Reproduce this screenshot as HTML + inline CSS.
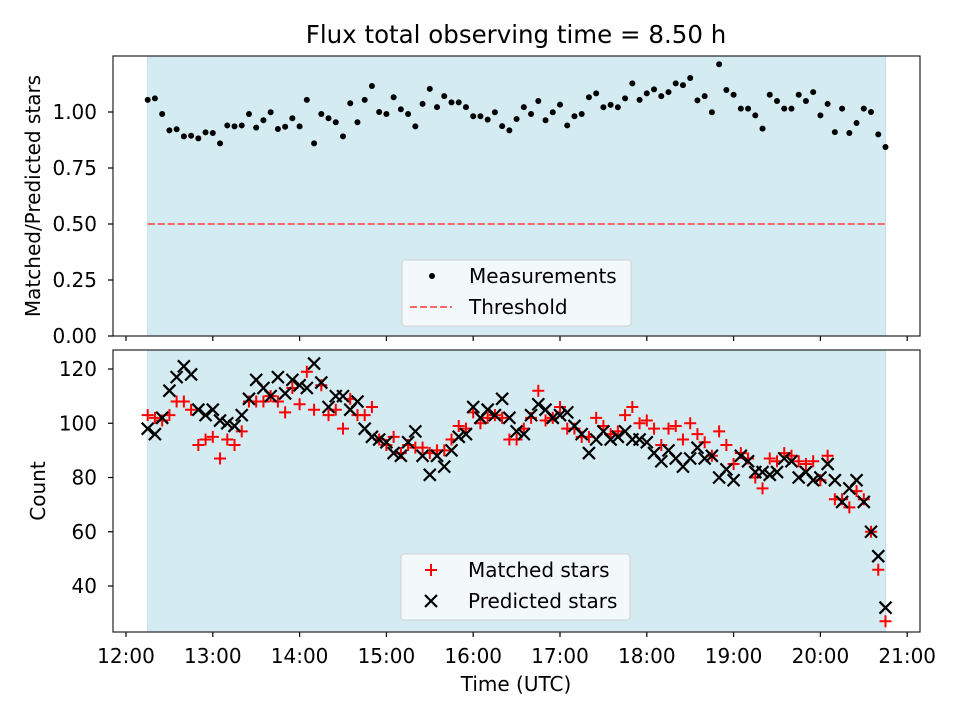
<!DOCTYPE html>
<html><head><meta charset="utf-8"><style>
body{margin:0;background:#fff;}
svg{display:block;font-family:"DejaVu Sans","Liberation Sans",sans-serif;}
</style></head><body>
<svg id="chart" width="960" height="720" viewBox="0 0 960 720" xmlns="http://www.w3.org/2000/svg">
<text x="516" y="43" font-size="24.5" text-anchor="middle">Flux total observing time = 8.50 h</text>
<g id="gtop"></g>
<g id="gbot"></g>
<text transform="translate(40,196) rotate(-90)" font-size="20" text-anchor="middle">Matched/Predicted stars</text>
<text transform="translate(45,491) rotate(-90)" font-size="20" text-anchor="middle">Count</text>
<text x="516" y="691" font-size="20" text-anchor="middle">Time (UTC)</text>
</svg>
<script>
const ratio=[1.054,1.061,0.991,0.918,0.923,0.891,0.894,0.882,0.909,0.906,0.860,0.94,0.936,0.94,0.991,0.93,0.963,0.999,0.924,0.934,0.972,0.936,1.054,0.86,0.991,0.972,0.954,0.891,1.039,0.954,1.054,1.116,1.0,0.991,1.066,1.012,0.991,0.936,1.036,1.103,1.022,1.071,1.043,1.043,1.022,0.981,0.981,0.966,0.999,0.937,0.918,0.969,1.022,0.991,1.049,0.963,0.999,1.033,0.94,0.981,0.991,1.066,1.083,1.021,1.032,1.021,1.061,1.128,1.054,1.083,1.101,1.071,1.089,1.128,1.12,1.152,1.052,1.071,0.999,1.213,1.098,1.077,1.015,1.015,0.985,0.926,1.077,1.049,1.015,1.015,1.077,1.049,1.089,0.985,1.036,0.91,1.015,0.906,0.951,1.015,1.0,0.9,0.844];
const predicted=[98,96,102,112,117,121,118,105,103,105,101,100,99,103,109,116,113,110,117,111,116,114,113,122,115,106,110,110,105,108,98,95,94,93,89,88,93,97,88,81,88,84,90,95,96,106,102,105,103,109,102,97,96,103,107,105,102,103,104,99,96,89,94,97,94,95,97,94,94,93,89,86,90,87,84,87,91,87,88,80,83,79,88,86,82,82,81,82,87,86,80,82,79,80,85,79,71,76,79,71,60,51,32];
const matched=[103,102,101,103,108,108,105,92,94,95,87,94,92,97,108,108,108,110,108,104,113,107,119,105,114,103,105,98,109,103,103,106,94,92,95,89,92,91,91,89,90,90,94,99,98,104,100,102,103,102,94,94,98,102,112,101,102,106,98,98,95,95,102,99,96,97,103,106,100,101,98,92,98,99,94,100,96,93,88,97,92,85,89,87,80,76,87,86,89,88,86,85,86,79,88,72,72,69,75,72,60,46,27];
const threshold=0.5;
const startHour=12.25, stepMin=5, spanStart=12.25, spanEnd=20.75;
const xTicks=["12:00","13:00","14:00","15:00","16:00","17:00","18:00","19:00","20:00","21:00"];
const xTickHours=[12,13,14,15,16,17,18,19,20,21];
const topTicks=[0,0.25,0.5,0.75,1.0];
const topTickLabels=["0.00","0.25","0.50","0.75","1.00"];
const botTicks=[40,60,80,100,120];

const NS="http://www.w3.org/2000/svg";
const X=h=>126+(h-12)*86.8;
const Ytop=v=>336-v*224;
const Ybot=v=>369+(120-v)*2.7125;
const AL=113,AR=920,FS=20;
function mk(p,tag,a){const e=document.createElementNS(NS,tag);for(const k in a)e.setAttribute(k,a[k]);p.appendChild(e);return e;}
const gTop=document.getElementById('gtop'), gBot=document.getElementById('gbot');
const plusD=(x,y)=>`M${x-6},${y}H${x+6}M${x},${y-6}V${y+6}`;
const crossD=(x,y)=>`M${x-6},${y-6}L${x+6},${y+6}M${x-6},${y+6}L${x+6},${y-6}`;

function panel(g,y0,y1,name){
  let s=mk(g,'rect',{x:X(spanStart),y:y0,width:X(spanEnd)-X(spanStart),height:y1-y0,fill:'#d5ebf2',stroke:'#c2e0ea','stroke-width':1});
  
  
  xTickHours.forEach(h=>{
    let t=mk(g,'line',{x1:X(h),x2:X(h),y1:y1,y2:y1+5,stroke:'#000','stroke-width':1.2});
    
    
  });
}
panel(gTop,56,336,'top');
panel(gBot,350,632,'bottom');

let th=mk(gTop,'line',{x1:X(spanStart),x2:X(spanEnd),y1:Ytop(threshold),y2:Ytop(threshold),stroke:'#ff6666','stroke-width':2,'stroke-dasharray':'7,3'});



ratio.forEach((v,i)=>{
  const h=startHour+i*stepMin/60;
  let c=mk(gTop,'circle',{cx:X(h),cy:Ytop(v),r:3,fill:'#000'});
  
  
});
matched.forEach((v,i)=>{
  const h=startHour+i*stepMin/60;
  let p=mk(gBot,'path',{d:plusD(X(h),Ybot(v)),stroke:'#ff0000','stroke-width':2,fill:'none'});
  
  
});
predicted.forEach((v,i)=>{
  const h=startHour+i*stepMin/60;
  let p=mk(gBot,'path',{d:crossD(X(h),Ybot(v)),stroke:'#000','stroke-width':2.2,fill:'none'});
  
  
});

[[gTop,56,336],[gBot,350,632]].forEach(([g,y0,y1])=>{
  let f=mk(g,'rect',{x:AL,y:y0,width:AR-AL,height:y1-y0,fill:'none',stroke:'#222','stroke-width':1.2});
  
  
});
topTicks.forEach((v,i)=>{
  let t=mk(gTop,'line',{x1:AL-5,x2:AL,y1:Ytop(v),y2:Ytop(v),stroke:'#000','stroke-width':1.2});
  
  
  let tx=mk(gTop,'text',{x:AL-16,y:Ytop(v)+7,'font-size':FS,'text-anchor':'end'});
  tx.textContent=topTickLabels[i];
  
  
});
botTicks.forEach(v=>{
  let t=mk(gBot,'line',{x1:AL-5,x2:AL,y1:Ybot(v),y2:Ybot(v),stroke:'#000','stroke-width':1.2});
  
  
  let tx=mk(gBot,'text',{x:AL-16,y:Ybot(v)+7,'font-size':FS,'text-anchor':'end'});
  tx.textContent=String(v);
  
  
});
xTickHours.forEach((h,i)=>{
  let tx=mk(gBot,'text',{x:X(h),y:663,'font-size':FS,'text-anchor':'middle'});
  tx.textContent=xTicks[i];
  
  
});

function legend(g,x,y,items,name){
  let b=mk(g,'rect',{x:x,y:y,width:229,height:66,rx:3,fill:'#f6fafc','fill-opacity':0.9,stroke:'#d0d0d0'});
  
  
  items.forEach((it,i)=>{
    const cy=y+16+i*31;
    it.draw(x+30,cy);
    let t=mk(g,'text',{x:x+67,y:cy+7,'font-size':FS});
    t.textContent=it.label;
    
    
  });
}
legend(gTop,402,260,[
  {label:'Measurements',draw:(x,y)=>{let c=mk(gTop,'circle',{cx:x,cy:y,r:3,fill:'#000'});}},
  {label:'Threshold',draw:(x,y)=>{let l=mk(gTop,'line',{x1:x-22,x2:x+20,y1:y,y2:y,stroke:'#ff6666','stroke-width':2,'stroke-dasharray':'7,3'});}}
],'top-legend');
legend(gBot,401,554,[
  {label:'Matched stars',draw:(x,y)=>{let p=mk(gBot,'path',{d:plusD(x,y),stroke:'#f00','stroke-width':2});}},
  {label:'Predicted stars',draw:(x,y)=>{let p=mk(gBot,'path',{d:crossD(x,y),stroke:'#000','stroke-width':2.2});}}
],'bottom-legend');
</script>
</body></html>
